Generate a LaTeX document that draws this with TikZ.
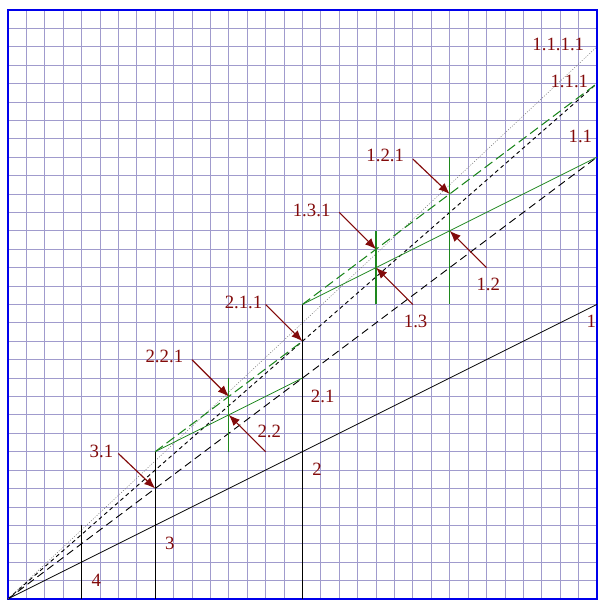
\documentclass[tikz,border=0pt]{standalone}
\usepackage{fontspec}
\setmainfont{Liberation Serif}
\usetikzlibrary{arrows.meta}
\definecolor{cgrid}{RGB}{160,155,205}
\definecolor{cframe}{RGB}{0,0,235}
\definecolor{cgreen}{RGB}{30,135,30}
\definecolor{cred}{RGB}{130,10,10}
\definecolor{cdot}{RGB}{120,120,120}
\tikzset{
  gridline/.style={draw=cgrid, line width=0.6pt},
  frameline/.style={draw=cframe, line width=1.3pt},
  base/.style={line width=0.6pt},
  post/.style={line width=0.9pt},
  ldash/.style={line width=0.7pt, dash pattern=on 6pt off 3.5pt},
  sdash/.style={line width=0.7pt, dash pattern=on 3pt off 2.5pt},
  fine/.style={draw=cdot, line width=0.4pt, dash pattern=on 0.8pt off 1.2pt},
  gsolid/.style={draw=cgreen, line width=0.6pt},
  gpost/.style={draw=cgreen, line width=0.9pt},
  gdash/.style={draw=cgreen, line width=0.8pt, dash pattern=on 7.5pt off 3.5pt},
  arrow/.style={-{Latex[length=3mm, width=2.4mm]}, draw=cred, line width=0.9pt},
  lbl/.style={text=cred, font=\fontsize{14.5}{17}\selectfont, inner sep=0pt},
}
\begin{document}
\begin{tikzpicture}[x=0.5cm, y=0.5cm]
  \useasboundingbox (-0.43,-0.49) rectangle (32.71,32.54);
  \draw[gridline, step=0.5cm] (0,0) grid (32,32);
  \draw[frameline] (0,0) rectangle (32,32);
  \coordinate (o) at (0,0);
  \draw[base] (o) -- (32,16);
  \draw[ldash] (o) -- (32,24);
  \draw[sdash] (o) -- (32,28);
  \draw[fine] (o) -- (32,30);
  \foreach \x in {4,8,16} \draw[post] (\x,0) -- (\x,\x);
  \draw[gsolid] (8,8) -- (16,12);
  \draw[gdash] (8,8) -- (16,14);
  \draw[gpost] (12,8) -- (12,12);
  \draw[gsolid] (16,16) -- (32,24);
  \draw[gdash] (16,16) -- (32,28);
  \draw[gpost] (20,16) -- (20,20);
  \draw[gpost] (24,16) -- (24,24);
  \node[lbl] (l1) at (31.7,15.1) {1};
  \node[lbl] (l11) at (31.1,25.1) {1.1};
  \node[lbl] (l111) at (30.5,28.1) {1.1.1};
  \node[lbl] (l1111) at (29.9,30.1) {1.1.1.1};
  \node[lbl] (l2) at (16.8,7.05) {2};
  \node[lbl] (l21) at (17.1,11.0) {2.1};
  \node[lbl] (l3) at (8.8,3.0) {3};
  \node[lbl] (l4) at (4.8,1.0) {4};
  \node[lbl] (l121) at (20.5,24.1) {1.2.1};
  \node[lbl] (l131) at (16.5,21.1) {1.3.1};
  \node[lbl] (l12) at (26.1,17.1) {1.2};
  \node[lbl] (l13) at (22.15,15.1) {1.3};
  \node[lbl] (l211) at (12.8,16.1) {2.1.1};
  \node[lbl] (l221) at (8.5,13.15) {2.2.1};
  \node[lbl] (l22) at (14.2,9.1) {2.2};
  \node[lbl] (l31) at (5.08,8.04) {3.1};
  \coordinate (s121) at (22,23.9); \coordinate (p121) at (24,22);
  \coordinate (s131) at (18,21); \coordinate (p131) at (20,19);
  \coordinate (s12) at (26,18); \coordinate (p12) at (24,20);
  \coordinate (s13) at (22,16); \coordinate (p13) at (20,18);
  \coordinate (s211) at (14,16); \coordinate (p211) at (16,14);
  \coordinate (s221) at (10,13); \coordinate (p221) at (12,11);
  \coordinate (s22) at (14,8); \coordinate (p22) at (12,10);
  \coordinate (s31) at (6,7.9); \coordinate (p31) at (8,6);
  \draw[arrow] (s121) -- (p121);
  \draw[arrow] (s131) -- (p131);
  \draw[arrow] (s12) -- (p12);
  \draw[arrow] (s13) -- (p13);
  \draw[arrow] (s211) -- (p211);
  \draw[arrow] (s221) -- (p221);
  \draw[arrow] (s22) -- (p22);
  \draw[arrow] (s31) -- (p31);
\end{tikzpicture}
\end{document}
